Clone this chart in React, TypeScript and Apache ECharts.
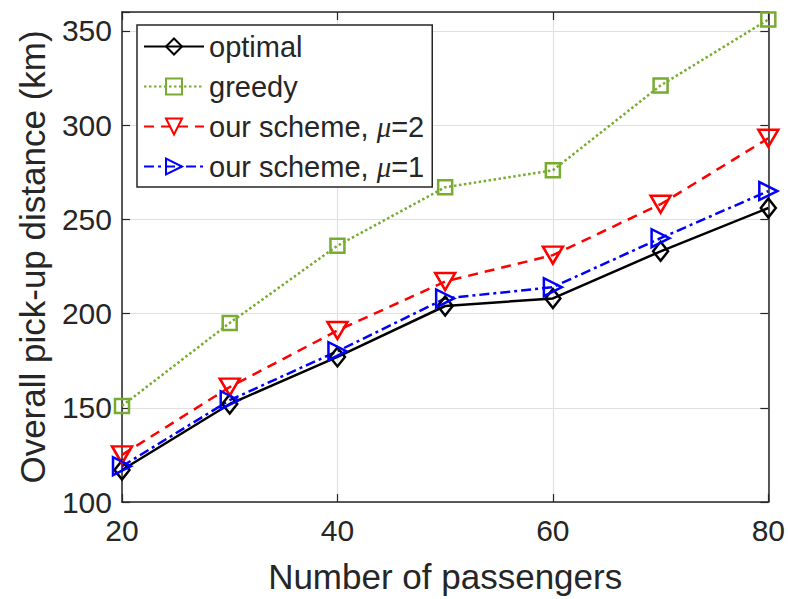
import React, { useEffect, useRef } from "react";
import * as echarts from "echarts";

const passengers = [20, 30, 40, 50, 60, 70, 80];
const optimal = [117, 152, 177, 204, 208, 233, 256];
const greedy = [151, 195, 236, 267, 276, 321, 356];
const schemeMu2 = [125, 161, 191, 217, 231, 258, 293];
const schemeMu1 = [119, 154, 180, 208, 214, 240, 265];
const seriesNames = ["optimal", "greedy", "our scheme, μ=2", "our scheme, μ=1"];
const xTicks = [20, 40, 60, 80];
const yTicks = [100, 150, 200, 250, 300, 350];

const FONT = "'Liberation Sans', Arial, Helvetica, sans-serif";
const TEXT = "#262626";

function pairs(ys: number[]) {
  return passengers.map((x, i) => [x, ys[i]]);
}

export default function App() {
  const ref = useRef<HTMLDivElement>(null);
  useEffect(() => {
    if (!ref.current) return;
    const chart = echarts.init(ref.current, null, { renderer: "svg" });
    const axisLine = { show: true, lineStyle: { color: TEXT, width: 1.5 } };
    const tick = { show: true, inside: true, length: 8, lineStyle: { color: TEXT, width: 1.2 } };
    const split = { show: true, lineStyle: { color: "#e0e0e0", width: 1.2 } };
    const mk = (
      name: string,
      ys: number[],
      color: string,
      type: any,
      symbol: string,
      size: any,
      rotate: number
    ) => ({
      name,
      type: "line",
      data: pairs(ys),
      symbol,
      symbolSize: size,
      symbolRotate: rotate,
      showAllSymbol: true,
      lineStyle: { color, width: 2.5, type, cap: "butt" },
      itemStyle: { color: "rgba(255,255,255,0)", borderColor: color, borderWidth: 2.5 },
      emphasis: { disabled: true },
    });
    chart.setOption({
      animation: false,
      textStyle: { fontFamily: FONT },
      grid: { left: 122, right: 15, top: 12, bottom: 97, show: false },
      legend: {
        orient: "vertical",
        left: 137,
        top: 25,
        itemWidth: 60,
        itemHeight: 20,
        itemGap: 11,
        padding: [7, 8, 6, 6],
        backgroundColor: "#ffffff",
        borderColor: TEXT,
        borderWidth: 1.5,
        data: seriesNames,
        formatter: (n: string) => {
          const i = n.indexOf("μ");
          if (i < 0) return "{a|" + n + "}";
          return "{a|" + n.slice(0, i) + "}{m|μ}{a|" + n.slice(i + 1) + "}";
        },
        textStyle: {
          fontSize: 29,
          color: TEXT,
          fontFamily: FONT,
          rich: {
            a: { fontSize: 29, color: TEXT, fontFamily: FONT, lineHeight: 31 },
            m: { fontSize: 29, color: TEXT, fontFamily: "'Liberation Serif', serif", fontStyle: "italic", lineHeight: 31 },
          },
        },
      },
      xAxis: [
        {
          type: "value",
          min: xTicks[0],
          max: xTicks[xTicks.length - 1],
          interval: 20,
          position: "bottom",
          axisLine,
          axisTick: tick,
          splitLine: split,
          axisLabel: { fontSize: 30, color: TEXT, margin: 13, fontFamily: FONT },
          name: "Number of passengers",
          nameLocation: "middle",
          nameGap: 57,
          nameTextStyle: { fontSize: 35, color: TEXT, fontFamily: FONT },
        },
        {
          type: "value",
          min: xTicks[0],
          max: xTicks[xTicks.length - 1],
          interval: 20,
          position: "top",
          axisLine,
          axisTick: tick,
          splitLine: { show: false },
          axisLabel: { show: false },
        },
      ],
      yAxis: [
        {
          type: "value",
          min: yTicks[0],
          max: 360,
          interval: 50,
          position: "left",
          axisLine,
          axisTick: tick,
          splitLine: split,
          axisLabel: {
            fontSize: 30,
            color: TEXT,
            margin: 10,
            fontFamily: FONT,
            formatter: (v: number) => (yTicks.includes(v) ? String(v) : ""),
          },
          name: "Overall pick-up distance (km)",
          nameLocation: "middle",
          nameGap: 72,
          nameTextStyle: { fontSize: 35, color: TEXT, fontFamily: FONT },
        },
        {
          type: "value",
          min: yTicks[0],
          max: 360,
          interval: 50,
          position: "right",
          axisLine,
          axisTick: tick,
          splitLine: { show: false },
          axisLabel: { show: false },
        },
      ],
      series: [
        mk(seriesNames[0], optimal, "#000000", "solid", "diamond", [15, 19], 0),
        mk(seriesNames[1], greedy, "#77ac30", [2.5, 2.5], "rect", 14, 0),
        mk(seriesNames[2], schemeMu2, "#ff0000", [10, 7], "triangle", [20, 17], 180),
        mk(seriesNames[3], schemeMu1, "#0000ff", [10, 4, 3, 4], "triangle", [18, 18], -90),
      ],
    });
    return () => chart.dispose();
  }, []);
  return (
    <div
      ref={ref}
      style={{ position: "fixed", left: 0, top: 0, width: 788, height: 599, background: "#fff" }}
    />
  );
}
